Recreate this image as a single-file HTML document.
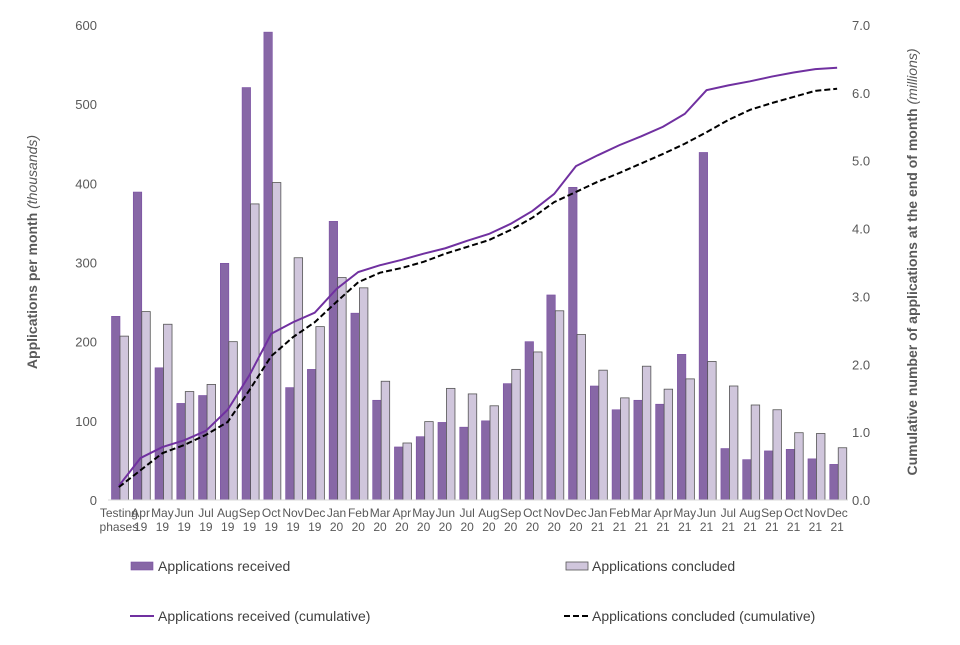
<!DOCTYPE html>
<html><head><meta charset="utf-8"><style>
body{margin:0;background:#fff;font-family:"Liberation Sans",sans-serif}
svg text{font-family:"Liberation Sans",sans-serif;fill:#595959}
</style></head><body>
<svg id="c" width="960" height="640"></svg>
<script>
const categories=[["Testing","phases"],["Apr","19"],["May","19"],["Jun","19"],["Jul","19"],["Aug","19"],["Sep","19"],["Oct","19"],["Nov","19"],["Dec","19"],["Jan","20"],["Feb","20"],["Mar","20"],["Apr","20"],["May","20"],["Jun","20"],["Jul","20"],["Aug","20"],["Sep","20"],["Oct","20"],["Nov","20"],["Dec","20"],["Jan","21"],["Feb","21"],["Mar","21"],["Apr","21"],["May","21"],["Jun","21"],["Jul","21"],["Aug","21"],["Sep","21"],["Oct","21"],["Nov","21"],["Dec","21"]];
const received=[232,389,167,122,132,299,521,591,142,165,352,236,126,67,80,98,92,100,147,200,259,395,144,114,126,121,184,439,65,51,62,64,52,45];
const concluded=[207,238,222,137,146,200,374,401,306,219,281,268,150,72,99,141,134,119,165,187,239,209,164,129,169,140,153,175,144,120,114,85,84,66];
const receivedCum=[0.21,0.62,0.78,0.88,1.02,1.33,1.84,2.45,2.62,2.76,3.11,3.36,3.46,3.54,3.63,3.71,3.82,3.92,4.07,4.26,4.51,4.92,5.08,5.23,5.36,5.50,5.69,6.04,6.11,6.17,6.24,6.30,6.35,6.37];
const concludedCum=[0.19,0.44,0.69,0.81,0.96,1.15,1.62,2.12,2.40,2.62,2.92,3.21,3.35,3.42,3.51,3.63,3.73,3.83,3.98,4.16,4.39,4.54,4.69,4.82,4.96,5.10,5.25,5.42,5.60,5.75,5.85,5.94,6.03,6.06];
const leftTicks=[0,100,200,300,400,500,600];
const rightTicks=["0.0","1.0","2.0","3.0","4.0","5.0","6.0","7.0"];

const svg=document.getElementById('c');
const NS='http://www.w3.org/2000/svg';
const X0=108,X1=848,Y0=500,Y1=25;
const band=(X1-X0)/categories.length;
const yL=v=>Y0-(v/600)*(Y0-Y1);
const yR=v=>Y0-(v/7)*(Y0-Y1);
const xc=i=>X0+band*i+band/2;
function mk(t,a,p){const e=document.createElementNS(NS,t);for(const k in a)e.setAttribute(k,a[k]);(p||svg).appendChild(e);return e;}

leftTicks.forEach(v=>{const t=mk('text',{x:97,y:yL(v)+5,'text-anchor':'end','font-size':13});t.textContent=v;

});
rightTicks.forEach(v=>{const t=mk('text',{x:852,y:yR(+v)+5,'font-size':13});t.textContent=v;

});

categories.forEach((c,i)=>{
 const bx=X0+band*i;
 const r=mk('rect',{x:bx+3.5,y:yL(received[i]),width:8.5,height:Y0-yL(received[i]),fill:'#8767a6',stroke:'#7a4fa3','stroke-width':0.6});
 
 
 const q=mk('rect',{x:bx+12,y:yL(concluded[i]),width:8.5,height:Y0-yL(concluded[i]),fill:'#d0c6dc',stroke:'#555','stroke-width':0.8});
 
 
 const t1=mk('text',{x:xc(i),y:517,'text-anchor':'middle','font-size':12});t1.textContent=c[0];
 
 
 const t2=mk('text',{x:xc(i),y:531,'text-anchor':'middle','font-size':12});t2.textContent=c[1];
 
 
});
const base=mk('line',{x1:X0,x2:X1,y1:Y0,y2:Y0,stroke:'#d9d9d9','stroke-width':1});



const l1=mk('polyline',{points:receivedCum.map((v,i)=>xc(i)+','+yR(v)).join(' '),fill:'none',stroke:'#7030a0','stroke-width':2});


const l2=mk('polyline',{points:concludedCum.map((v,i)=>xc(i)+','+yR(v)).join(' '),fill:'none',stroke:'#000','stroke-width':2,'stroke-dasharray':'6,3'});


</script>
<svg width="960" height="640" style="position:absolute;left:0;top:0">
<text transform="translate(37,252) rotate(-90)" text-anchor="middle" font-size="14" font-weight="bold" style="fill:#595959">Applications per month <tspan font-style="italic" font-weight="normal">(thousands)</tspan></text>
<text transform="translate(917,262) rotate(-90)" text-anchor="middle" font-size="14" font-weight="bold" style="fill:#595959">Cumulative number of applications at the end of month <tspan font-style="italic" font-weight="normal">(millions)</tspan></text>
<g font-size="14">
<rect x="131" y="562" width="22" height="8" fill="#8767a6" stroke="#7a4fa3" stroke-width="0.6"/>
<text x="158" y="571" style="fill:#404040">Applications received</text>
<rect x="566" y="562" width="22" height="8" fill="#d0c6dc" stroke="#555" stroke-width="0.8"/>
<text x="592" y="571" style="fill:#404040">Applications concluded</text>
<line x1="130" x2="154" y1="616" y2="616" stroke="#7030a0" stroke-width="2"/>
<text x="158" y="621" style="fill:#404040">Applications received (cumulative)</text>
<line x1="564" x2="588" y1="616" y2="616" stroke="#000" stroke-width="2" stroke-dasharray="6,3"/>
<text x="592" y="621" style="fill:#404040">Applications concluded (cumulative)</text>
</g>
</svg>
</body></html>
